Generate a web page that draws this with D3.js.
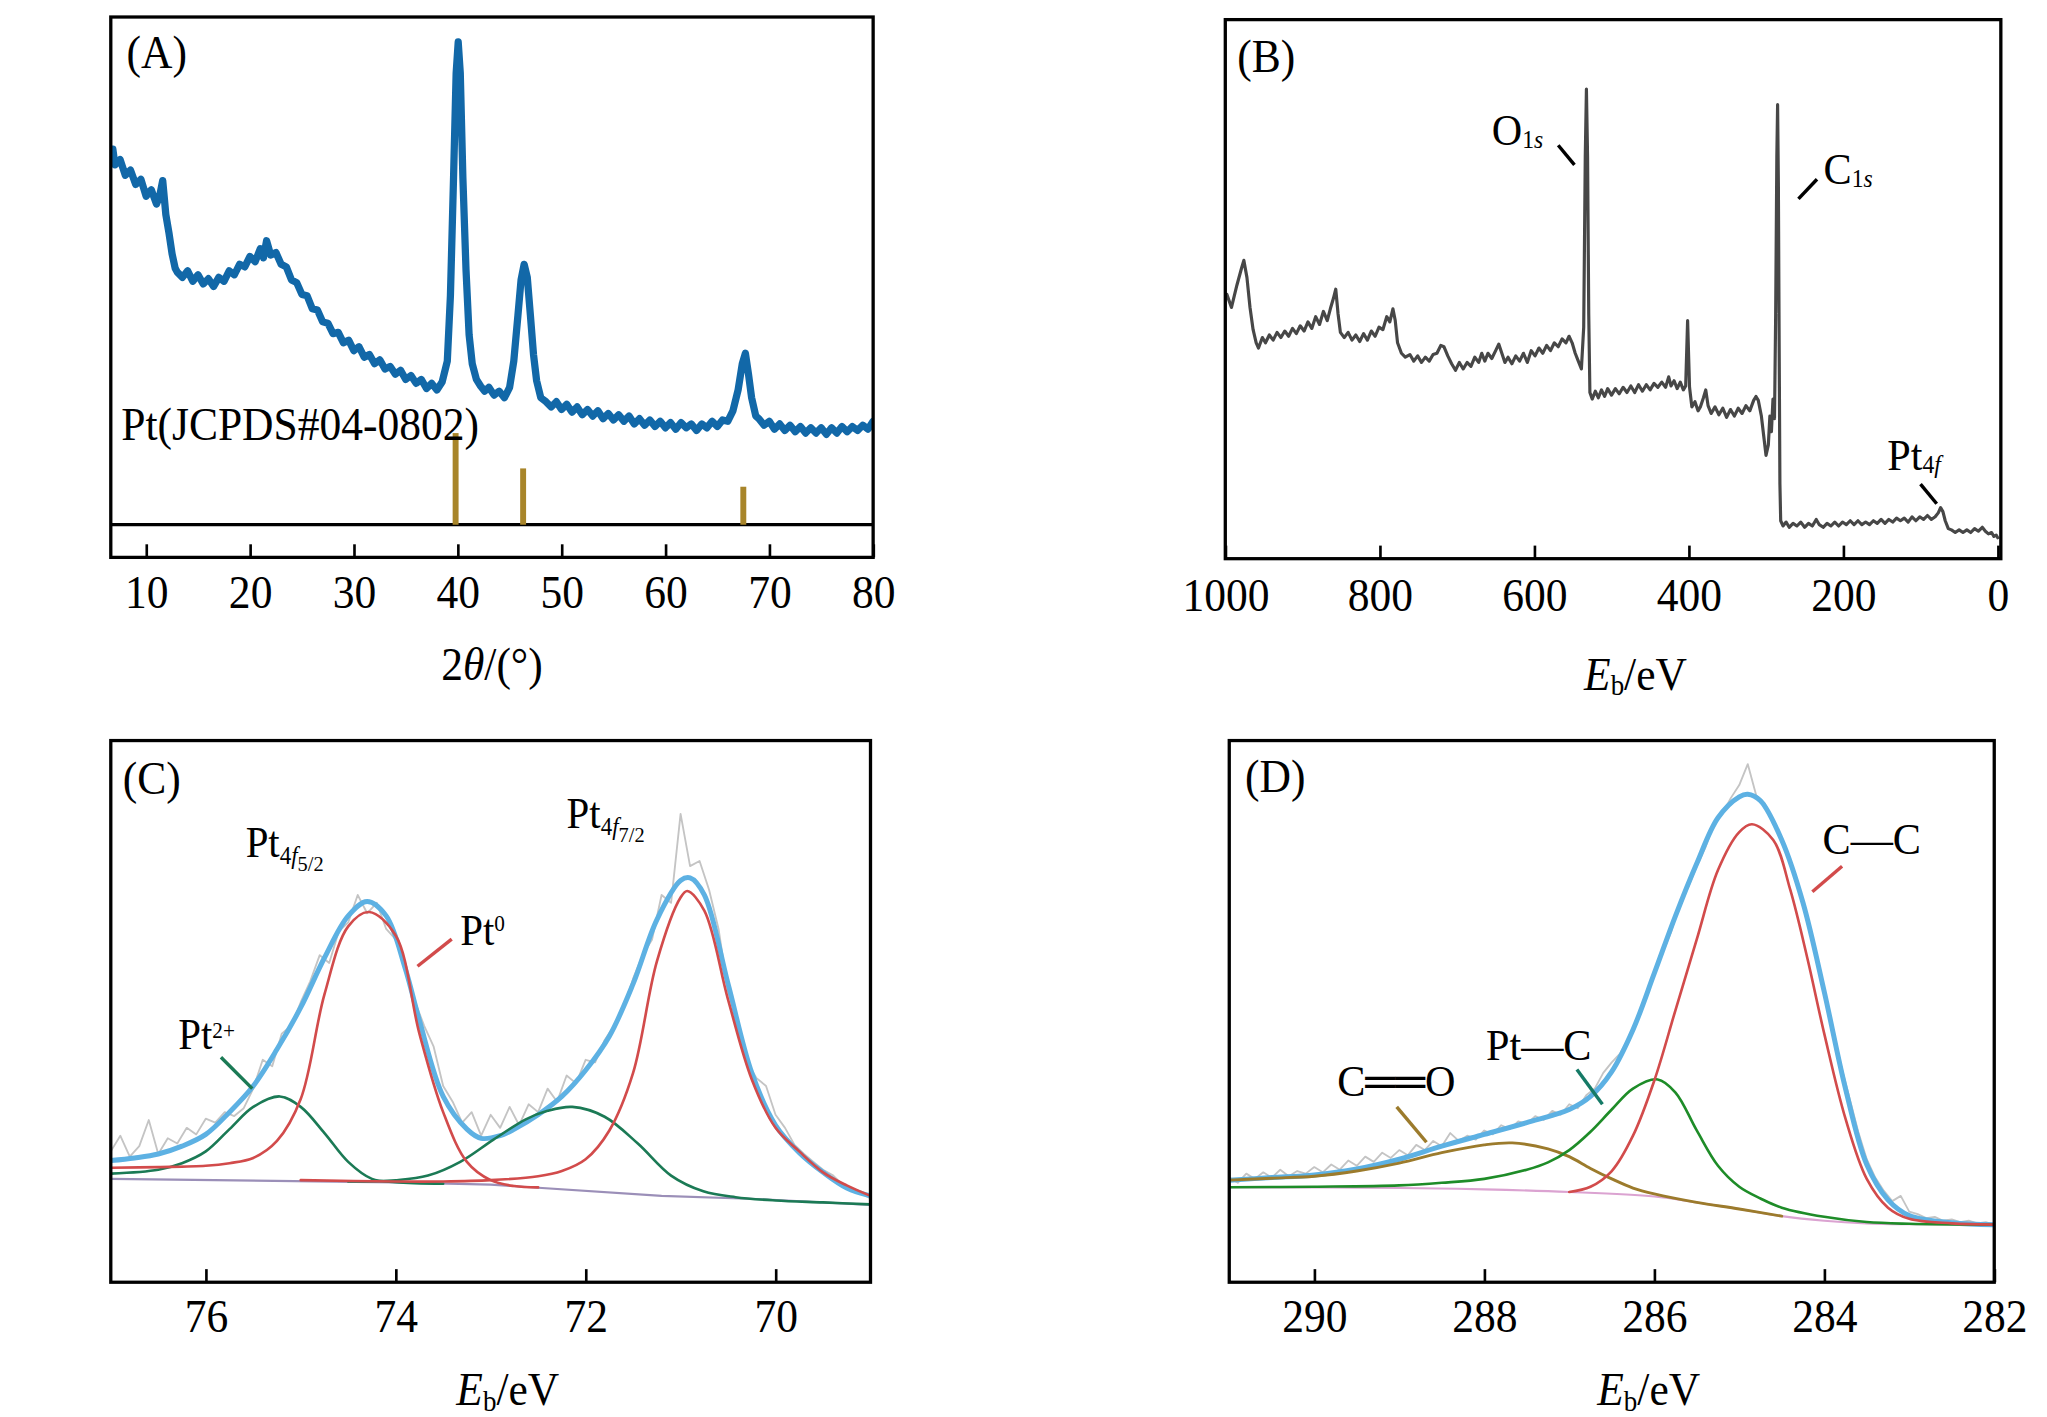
<!DOCTYPE html>
<html>
<head>
<meta charset="utf-8">
<script src="https://cdn.jsdelivr.net/npm/d3@7"></script>
<style>
  body { margin: 0; background: #fff; }
  text { font-family: "Liberation Serif", "Times New Roman", serif; }
</style>
</head>
<body>
<div id="chart"></div>
<script>
// ---------- (A) XRD ----------
const xrdTheta = [6.8,7.0,7.5,8.0,8.5,9.0,9.5,10.0,10.5,11.0,11.3,11.6,11.9,12.2,12.5,12.8,13.0,
  13.5,14.0,14.5,15.0,15.5,16.0,16.5,17.0,17.5,18.0,18.5,19.0,19.5,20.0,20.5,21.0,21.3,21.6,22.0,22.5,
  23.0,23.5,24.0,24.5,25.0,25.5,26.0,26.5,27.0,27.5,28.0,28.5,29.0,29.5,30.0,30.5,31.0,31.5,32.0,32.5,
  33.0,33.5,34.0,34.5,35.0,35.5,36.0,36.5,37.0,37.5,38.0,38.5,
  39.0,39.3,39.6,39.85,40.05,40.25,40.5,40.8,41.1,41.4,41.8,42.2,42.6,43.0,43.5,44.0,44.5,45.0,45.4,45.8,
  46.1,46.4,46.7,47.0,47.3,47.6,48.0,
  48.5,49.0,49.5,50.0,50.5,51.0,51.5,52.0,52.5,53.0,53.5,54.0,54.5,55.0,55.5,56.0,56.5,57.0,57.5,58.0,
  58.5,59.0,59.5,60.0,60.5,61.0,61.5,62.0,62.5,63.0,63.5,64.0,64.5,65.0,65.5,66.0,66.5,
  67.0,67.4,67.7,68.0,68.3,68.7,69.0,
  69.5,70.0,70.5,71.0,71.5,72.0,72.5,73.0,73.5,74.0,74.5,75.0,75.5,76.0,76.5,77.0,77.5,78.0,78.5,79.0,79.5,80.0];
const xrdCounts = [312,300,304,292,296,285,289,276,281,270,276,288,262,248,232,221,218,
  214,219,211,216,209,213,207,214,211,219,216,224,222,230,226,236,229,242,231,233,
  224,222,212,210,201,200,190,189,180,179,171,172,164,166,158,161,153,155,148,151,
  144,146,140,143,136,139,133,136,129,133,128,134,
  150,200,290,370,394,370,290,220,170,148,136,131,127,130,124,127,122,130,150,185,
  212,224,214,185,155,135,122,
  119,115,119,113,117,111,115,109,113,108,112,106,110,105,109,104,108,102,106,101,
  105,100,104,99,103,98,103,99,102,97,102,99,104,100,105,104,112,
  128,148,156,140,122,108,106,
  101,104,98,102,97,101,96,100,95,99,95,99,94,99,95,100,96,100,97,101,98,104];
const refTheta = [39.8, 46.3, 67.5];
const refCounts = [95, 68, 54];
const refBase = 25;
const xrdTicks = [10, 20, 30, 40, 50, 60, 70, 80];

// ---------- (B) XPS survey ----------
const surveyEnergy = [998,992,985,979,976,972,968,964,960,957,
  952,948,943,938,933,928,923,918,913,908,
  903,898,893,888,883,878,873,868,864,860,
  857,854,851,846,841,836,831,826,821,816,
  811,806,801,796,791,787,783,780,777,772,
  767,761,756,751,746,741,736,731,726,721,
  717,712,707,702,697,692,687,682,677,672,
  668,664,660,655,650,646,642,638,634,629,
  624,619,614,609,604,599,594,589,584,579,
  574,569,564,559,555,551,547,543,539,536,
  534,532.5,531,529.5,528,525,521,517,513,509,
  505,500,495,490,485,480,475,470,465,460,
  455,450,445,440,435,430,426,423,419,415,
  411,407,404,401.5,399,396,392,388,385,381,
  378,375,371,366,361,356,351,346,341,336,
  331,326,321,316,313,310,306,303,300,297,
  295,293,291,289,287.5,286,285,284,283,282,
  281,278,274,270,265,260,255,250,245,240,
  235,231,226,221,216,211,206,201,196,191,
  186,181,176,171,166,161,156,151,146,141,
  136,131,126,121,116,111,106,101,96,91,
  86,81,77,74,71,68,64,60,55,50,
  45,40,35,30,25,20,16,12,8,5,
  2,0];
const surveyCounts = [202,192,209,222,228,215,192,175,165,161,
  169,165,171,167,173,169,174,170,176,172,
  178,174,181,176,185,179,189,182,191,199,
  206,187,173,169,173,167,171,166,172,167,
  174,170,177,175,185,181,191,182,165,157,
  154,156,151,155,150,154,151,156,157,163,
  162,155,149,144,150,145,150,147,154,150,
  157,151,157,153,159,164,157,150,154,149,
  155,151,157,150,159,155,161,157,163,159,
  165,162,168,165,170,165,157,151,145,177,
  307,359,307,187,127,122,128,123,129,124,
  130,125,130,126,131,127,132,127,133,128,
  133,129,134,131,135,131,139,132,136,130,
  135,129,132,182,131,116,120,113,116,123,
  129,117,111,116,110,115,108,114,109,115,
  111,117,113,121,124,121,109,94,79,87,
  109,97,122,107,187,307,347,287,167,57,
  29,25,28,24,27,25,28,24,27,25,
  30,26,24,27,25,28,25,28,26,29,
  26,29,26,28,26,29,27,30,27,30,
  28,31,29,31,28,32,29,32,30,33,
  30,32,35,39,36,29,23,22,20,22,
  20,22,20,23,21,24,21,19,20,17,
  18,16];
const surveyTicks = [1000, 800, 600, 400, 200, 0];

// ---------- (C) Pt 4f ----------
const ptRawE = [77.0,76.9,76.8,76.7,76.6,76.5,76.4,76.3,76.2,76.1,
  76.0,75.9,75.8,75.7,75.6,75.5,75.4,75.3,75.2,75.1,
  75.0,74.9,74.8,74.7,74.6,74.5,74.4,74.3,74.2,74.1,
  74.0,73.9,73.8,73.7,73.6,73.5,73.4,73.3,73.2,73.1,
  73.0,72.9,72.8,72.7,72.6,72.5,72.4,72.3,72.2,72.1,
  72.0,71.9,71.8,71.7,71.6,71.5,71.4,71.3,71.2,71.1,
  71.0,70.9,70.8,70.7,70.6,70.5,70.4,70.3,70.2,70.1,
  70.0,69.9,69.8,69.7,69.6,69.5,69.4,69.3,69.2,69.1,69.0];
const ptRawI = [100,112,96,104,124,98,110,106,118,113,
  125,122,130,127,133,148,170,165,190,196,
  214,230,250,244,268,275,296,282,290,270,
  262,238,215,196,180,150,138,122,130,112,
  128,118,134,120,136,130,148,138,158,152,
  170,168,185,196,210,232,250,262,296,290,
  358,318,322,300,270,222,200,168,156,150,
  128,118,105,98,92,86,82,75,72,68,64];
const ptEnvE = [77.0,76.75,76.5,76.25,76.0,75.75,75.5,75.25,75.0,74.75,74.5,74.3,74.1,73.9,73.75,
  73.5,73.25,73.1,72.9,72.75,72.5,72.25,72.0,71.75,71.5,71.25,71.0,70.9,70.75,70.5,70.25,70.0,
  69.75,69.5,69.25,69.0];
const ptEnvI = [93,95,98,104,113,130,150,178,210,248,280,291,280,240,200,
  142,117,110,112,117,128,142,162,188,228,277,307,309,296,228,160,120,
  99,84,72,66];
const pt0aE = [77.0,76.5,76.0,75.75,75.5,75.25,75.0,74.75,74.5,74.28,74.0,73.75,73.5,73.25,73.0,72.75,72.5];
const pt0aI = [87.5,88,89,91,95,108,140,220,272,283,265,190,130,92,78,73.5,72.5];
const pt0bE = [75.0,74.0,73.5,73.0,72.5,72.25,72.0,71.75,71.5,71.25,71.0,70.93,70.75,70.5,70.25,70.0,69.75,69.5,69.25,69.0];
const pt0bI = [78,77,77,78,81,85,94,116,160,245,294,299,284,216,155,118,100,84,74,66];
const pt2aE = [77.0,76.5,76.25,76.0,75.75,75.5,75.22,75.0,74.75,74.5,74.25,74.0,73.5];
const pt2aI = [83,86,91,100,117,134,142,134,114,92,79,76.5,75.3];
const pt2bE = [74.5,74.0,73.66,73.32,72.97,72.63,72.4,72.14,71.8,71.45,71.1,70.76,70.42,70.0,69.5,69.0];
const pt2bI = [77,78,81.5,92,109,124.5,131,134,126.5,106,81.5,69.5,65,62.5,61,59.5];
const ptBgE = [77.0,74.0,73.0,71.2,70.2,69.0];
const ptBgI = [79,76.3,74.6,66,63.6,59.1];
const ptTicks = [76, 74, 72, 70];

// ---------- (D) C 1s ----------
const c1sRawE = [291.0,290.9,290.8,290.7,290.6,290.5,290.4,290.3,290.2,290.1,
  290.0,289.9,289.8,289.7,289.6,289.5,289.4,289.3,289.2,289.1,
  289.0,288.9,288.8,288.7,288.6,288.5,288.4,288.3,288.2,288.1,
  288.0,287.9,287.8,287.7,287.6,287.5,287.4,287.3,287.2,287.1,
  287.0,286.9,286.8,286.7,286.6,286.5,286.4,286.3,286.2,286.1,
  286.0,285.9,285.8,285.7,285.6,285.5,285.4,285.3,285.2,285.1,
  285.0,284.9,284.8,284.7,284.6,284.5,284.4,284.3,284.2,284.1,
  284.0,283.9,283.8,283.7,283.6,283.5,283.4,283.3,283.2,283.1,
  283.0,282.9,282.8,282.7,282.6,282.5,282.4,282.3,282.2,282.1,282.0];
const c1sRawI = [80,76,83,79,84,80,86,81,85,83,
  88,84,90,86,93,89,96,92,99,95,
  101,97,105,101,108,104,114,108,112,109,
  116,113,120,117,123,121,127,124,131,128,
  136,133,143,148,160,168,175,187,200,216,
  236,252,268,290,302,318,332,350,358,370,
  380,396,372,366,350,340,322,302,280,250,
  222,195,165,140,115,94,80,70,62,66,
  54,52,49,50,47,48,46,47,45,46,44];
const c1sEnvE = [291,290.5,290,289.5,289,288.5,288,287.5,287,286.75,286.5,286.25,286,285.75,285.5,
  285.25,285,284.9,284.75,284.5,284.25,284,283.75,283.5,283.25,283,282.5,282];
const c1sEnvI = [78,80,82,86.5,94,104,113,122,132,142,161,193,236,280,320,
  355,371,373,368,338,290,222,148,90,63,51,45.5,44];
const ccE = [287.0,286.75,286.5,286.25,286.0,285.75,285.5,285.25,285.0,284.85,284.6,284.4,284.2,284.0,
  283.75,283.5,283.25,283.0,282.5,282.0];
const ccI = [69,73,85,112,154,208,262,315,344,350,338,300,248,190,125,79,57,48.5,45,44];
const ptcE = [291,290,289,288.5,288,287.5,287.25,287.0,286.75,286.5,286.25,285.96,285.75,285.5,285.25,
  285.0,284.75,284.5,284.0,283.5,283.0,282.0];
const ptcI = [72.6,73,74,76,79,86,91.6,101,115,132,148,155,145,116,89,73,64,57,50,46,44.7,44];
const coE = [291,290.5,290,289.5,289,288.5,288,287.67,287.25,287,286.75,286.5,286.25,286,285.5,285,284.5];
const coI = [78,79.5,81,85,91,99,105,106.5,102,96,87,79,72,67.5,61,56,50.5];
const c1sBgE = [291,289,288,287,286,285.5,285,284.5,284,283.5,283,282];
const c1sBgI = [72.6,72,71,69,65.5,61,56,50.5,47,45,44.3,44];
const c1sTicks = [290, 288, 286, 284, 282];

// annotations, positioned in data units: [text, baseline shift, size ratio, italic]
const surveyNotes = [
  { parts: [["O"], ["1", 2, 0.56], ["s", 2, 0.56, 1]], at: [655, 316], lead: [[569, 316], [548, 301]] },
  { parts: [["C"], ["1", 2, 0.56], ["s", 2, 0.56, 1]], at: [225.5, 286], lead: [[234, 290], [258, 275]] },
  { parts: [["Pt"], ["4", 2, 0.56], ["f", 2, 0.56, 1]], at: [143, 68], lead: [[100, 57], [79, 42]] }
];
const ptNotes = [
  { parts: [["Pt"], ["4", 5, 0.56], ["f", 5, 0.56, 1], ["5/2", 10, 0.5]], at: [75.58, 325] },
  { parts: [["Pt"], ["4", 5, 0.56], ["f", 5, 0.56, 1], ["7/2", 10, 0.5]], at: [72.2, 347] },
  { parts: [["Pt"], ["0", -10, 0.52]], at: [73.32, 258], lead: [[73.77, 241.5], [73.41, 262.2]], color: "#d24b4b" },
  { parts: [["Pt"], ["2+", -8, 0.52]], at: [76.29, 178], lead: [[75.84, 172], [75.51, 148]], color: "#1b7a55" }
];
const c1sNotes = [
  { parts: [["C—C"]], at: [284.02, 327], lead: [[283.79, 318], [284.14, 298.5]], color: "#d24b4b" },
  { parts: [["Pt—C"]], at: [287.98, 169.5], lead: [[286.91, 162.5], [286.61, 136]], color: "#157a66" },
  { parts: [["C══O"]], at: [289.73, 142], lead: [[289.03, 134], [288.68, 107]], color: "#9c7b2c" }
];

// ---------- drawing ----------
const W = 2047, H = 1417;
const FS = 33, STRETCH = 1.08;

var svg = d3.select("#chart").append("svg")
  .attr("width", W)
  .attr("height", H);
var root = svg.append("g")
  .attr("transform", `scale(${W / 1552},${H / 1083})`);
var defs = svg.append("defs");

function richText(parent, x, y, parts, size, anchor) {
  var t = parent.append("g")
    .attr("transform", `translate(${x},${y}) scale(1,${STRETCH})`)
    .append("text")
    .attr("font-size", size)
    .attr("text-anchor", anchor || "start")
    .attr("fill", "#000");
  var prev = 0;
  parts.forEach(function(p) {
    var off = p[1] || 0;
    t.append("tspan")
      .attr("dy", off - prev)
      .attr("font-size", size * (p[2] || 1))
      .attr("font-style", p[3] ? "italic" : null)
      .text(p[0]);
    prev = off;
  });
  return t;
}

function makePanel(id, box, xDomain, yDomain, ticks, letter, letterPos, title, titlePos) {
  var g = root.append("g").attr("class", "panel-" + id);
  var x = d3.scaleLinear().domain(xDomain).range([box.x0, box.x1]);
  var y = d3.scaleLinear().domain(yDomain).range([box.y1, box.y0]);

  defs.append("clipPath").attr("id", "clip-" + id)
    .append("rect")
    .attr("x", box.x0).attr("y", box.y0)
    .attr("width", box.x1 - box.x0).attr("height", box.y1 - box.y0);

  var plot = g.append("g").attr("clip-path", `url(#clip-${id})`);

  var ax = g.append("g")
    .attr("transform", `translate(0,${box.y1})`)
    .call(d3.axisBottom(x).tickValues(ticks).tickSize(-10).tickPadding(0).tickFormat(d3.format("d")));
  ax.select(".domain").remove();
  ax.selectAll(".tick line").attr("stroke", "#000").attr("stroke-width", 2);
  ax.selectAll(".tick text")
    .attr("y", 0).attr("dy", 0)
    .attr("fill", "#000")
    .attr("font-size", FS)
    .attr("font-family", '"Liberation Serif", "Times New Roman", serif')
    .attr("transform", `translate(0,${box.labelGap}) scale(1,${STRETCH})`);

  g.append("rect")
    .attr("x", box.x0).attr("y", box.y0)
    .attr("width", box.x1 - box.x0).attr("height", box.y1 - box.y0)
    .attr("fill", "none").attr("stroke", "#000").attr("stroke-width", 2.5);

  richText(g, box.x0 + letterPos[0], box.y0 + letterPos[1], [[letter]], FS);
  richText(g, titlePos[0], titlePos[1], title, FS, "middle");

  return { g: g, plot: plot, x: x, y: y };
}

function drawLine(p, xs, ys, color, width, curve) {
  p.plot.append("path")
    .datum(d3.zip(xs, ys))
    .attr("fill", "none")
    .attr("stroke", color)
    .attr("stroke-width", width)
    .attr("stroke-linejoin", "round")
    .attr("stroke-linecap", "round")
    .attr("d", d3.line()
      .x(d => p.x(d[0]))
      .y(d => p.y(d[1]))
      .curve(curve || d3.curveLinear));
}

function drawNotes(p, notes, size) {
  notes.forEach(function(n) {
    if (n.lead) {
      p.g.append("line")
        .attr("x1", p.x(n.lead[0][0])).attr("y1", p.y(n.lead[0][1]))
        .attr("x2", p.x(n.lead[1][0])).attr("y2", p.y(n.lead[1][1]))
        .attr("stroke", n.color || "#000")
        .attr("stroke-width", 2.6);
    }
    richText(p.g, p.x(n.at[0]), p.y(n.at[1]), n.parts, size);
  });
}

var titleEb = [["E", 0, 1, 1], ["b", 4, 0.62], ["/eV", 0, 1]];
var smooth = d3.curveCatmullRom.alpha(0.5);

// (A)
var pA = makePanel("A", { x0: 84, x1: 662, y0: 13, y1: 426, labelGap: 39 },
  [6.6, 80], [0, 413], xrdTicks, "(A)", [12, 39],
  [["2"], ["θ", 0, 1, 1], ["/(°)"]], [373, 520]);
drawLine(pA, xrdTheta, xrdCounts, "#1268a8", 5.5);
pA.plot.append("line")
  .attr("x1", pA.x(6.6)).attr("x2", pA.x(80))
  .attr("y1", pA.y(refBase)).attr("y2", pA.y(refBase))
  .attr("stroke", "#000").attr("stroke-width", 2.6);
pA.plot.selectAll(".stick")
  .data(d3.zip(refTheta, refCounts))
  .join("line")
  .attr("class", "stick")
  .attr("x1", d => pA.x(d[0])).attr("x2", d => pA.x(d[0]))
  .attr("y1", pA.y(refBase)).attr("y2", d => pA.y(d[1]))
  .attr("stroke", "#a8852a").attr("stroke-width", 4.5);
richText(pA.g, pA.x(7.6), pA.y(90), [["Pt(JCPDS#04-0802)"]], FS);

// (B)
var pB = makePanel("B", { x0: 929, x1: 1517, y0: 15, y1: 427, labelGap: 40 },
  [1000, -4], [0, 412], surveyTicks, "(B)", [9, 40], titleEb, [1240, 527]);
drawLine(pB, surveyEnergy, surveyCounts, "#474747", 2.4);
drawNotes(pB, surveyNotes, 32);

// (C)
var pC = makePanel("C", { x0: 84, x1: 660, y0: 566, y1: 980, labelGap: 38 },
  [77, 69], [0, 414], ptTicks, "(C)", [9, 41], titleEb, [385, 1074]);
drawLine(pC, ptRawE, ptRawI, "#c4c4c4", 1.4);
drawLine(pC, ptEnvE, ptEnvI, "#5db1e3", 3.8, smooth);
drawLine(pC, ptBgE, ptBgI, "#9b8fb8", 1.6);
drawLine(pC, pt2aE, pt2aI, "#1b7a55", 2, smooth);
drawLine(pC, pt2bE, pt2bI, "#1b7a55", 2, smooth);
drawLine(pC, pt0aE, pt0aI, "#d24b4b", 2, smooth);
drawLine(pC, pt0bE, pt0bI, "#d24b4b", 2, smooth);
drawNotes(pC, ptNotes, 31);

// (D)
var pD = makePanel("D", { x0: 932, x1: 1512, y0: 566, y1: 980, labelGap: 38 },
  [291, 282], [0, 414], c1sTicks, "(D)", [12, 39], titleEb, [1250, 1074]);
drawLine(pD, c1sRawE, c1sRawI, "#c4c4c4", 1.4);
drawLine(pD, c1sEnvE, c1sEnvI, "#5db1e3", 3.8, smooth);
drawLine(pD, c1sBgE, c1sBgI, "#dba3d1", 1.6, smooth);
drawLine(pD, coE, coI, "#9c7b2c", 2.2, smooth);
drawLine(pD, ptcE, ptcI, "#1e8c28", 2, smooth);
drawLine(pD, ccE, ccI, "#d24b4b", 2, smooth);
drawNotes(pD, c1sNotes, 32);
</script>
</body>
</html>
